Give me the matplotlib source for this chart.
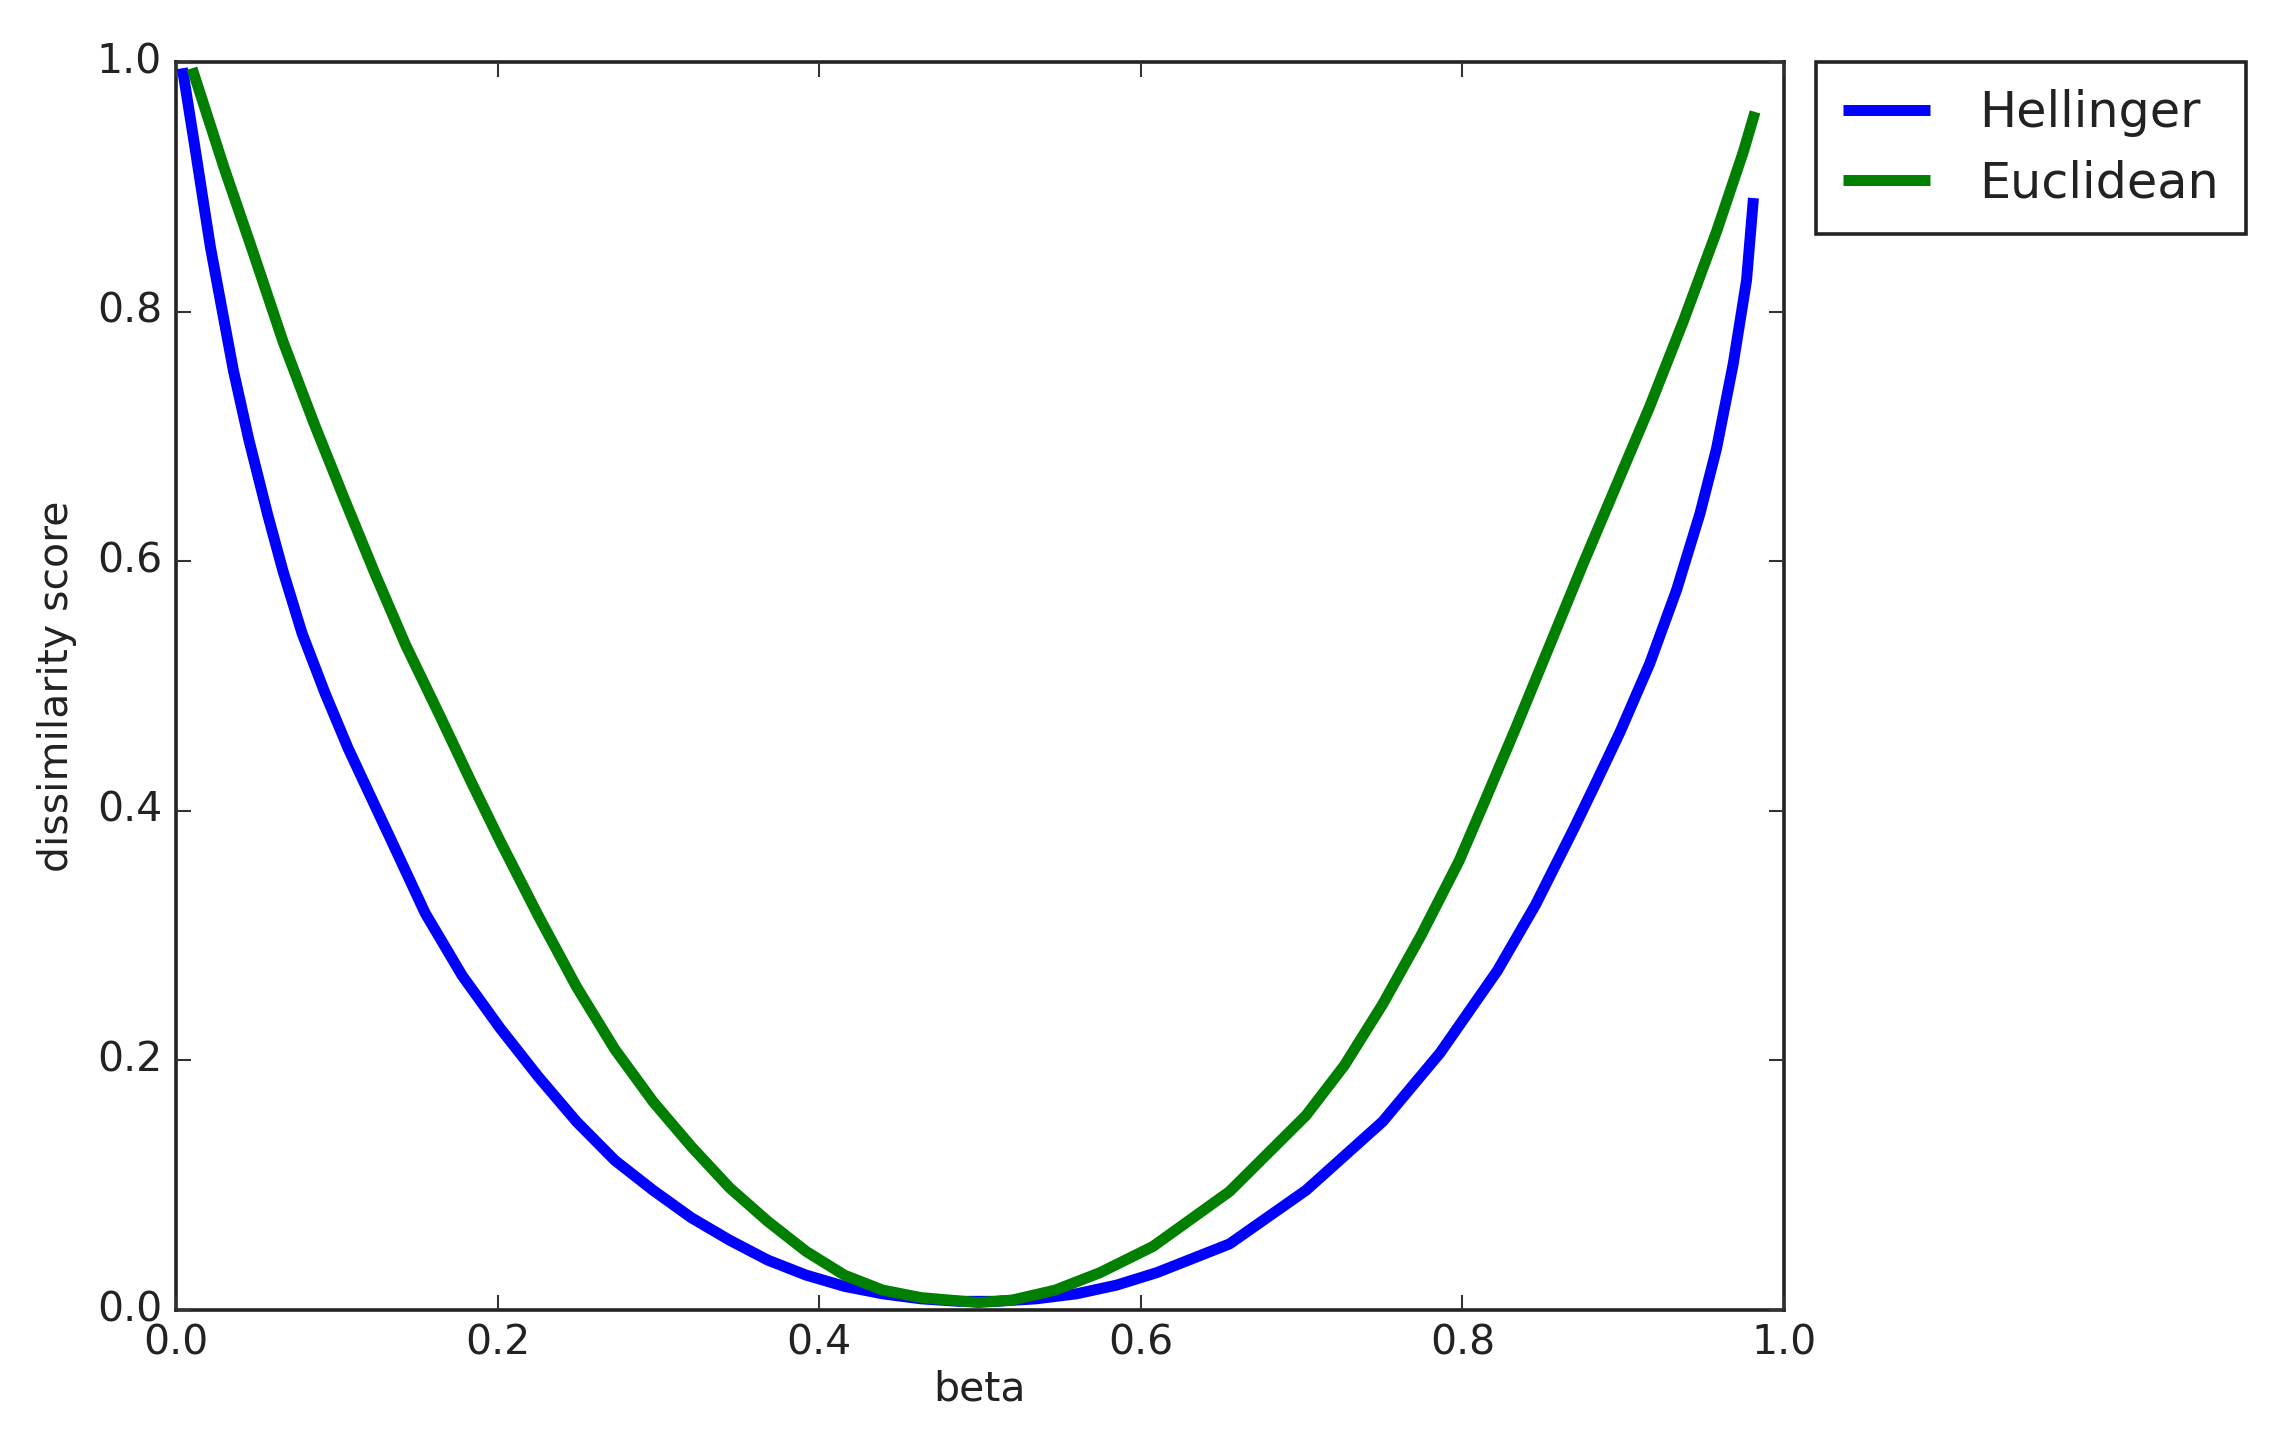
import matplotlib
matplotlib.use("Agg")
import matplotlib.pyplot as plt

# Hellinger curve
hell_beta = [0.004, 0.012, 0.018, 0.0214, 0.0286, 0.0357, 0.0452, 0.0571, 0.0666, 0.0785,
             0.0928, 0.1071, 0.1238, 0.1333, 0.155, 0.178, 0.2015, 0.2253, 0.2491, 0.2729,
             0.2967, 0.3205, 0.3443, 0.3681, 0.3919, 0.4157, 0.4395, 0.4633, 0.487, 0.510,
             0.535, 0.560, 0.585, 0.610, 0.6552, 0.7028, 0.7504, 0.7861, 0.8218, 0.8456,
             0.8694, 0.8814, 0.898, 0.9165, 0.9332, 0.9477, 0.958, 0.9684, 0.9767, 0.981]
hell_vals = [0.995, 0.930, 0.880, 0.852, 0.802, 0.753, 0.698, 0.637, 0.592, 0.542,
             0.494, 0.450, 0.404, 0.378, 0.318, 0.268, 0.226, 0.187, 0.151, 0.120,
             0.096, 0.074, 0.056, 0.040, 0.028, 0.019, 0.013, 0.009, 0.007, 0.007,
             0.009, 0.013, 0.020, 0.030, 0.053, 0.096, 0.151, 0.206, 0.272, 0.325,
             0.386, 0.418, 0.463, 0.518, 0.577, 0.638, 0.690, 0.758, 0.825, 0.891]

# Euclidean curve
eucl_beta = [0.010, 0.016, 0.030, 0.0476, 0.0666, 0.0857, 0.1047, 0.1238, 0.1428, 0.1642,
             0.1833, 0.2015, 0.2253, 0.2491, 0.2729, 0.2967, 0.3205, 0.3443, 0.3681, 0.3919,
             0.4157, 0.4395, 0.4633, 0.499, 0.520, 0.5468, 0.5747, 0.6076, 0.6552, 0.7028,
             0.7266, 0.7504, 0.7742, 0.798, 0.813, 0.8337, 0.8541, 0.8751, 0.8958, 0.9165,
             0.9373, 0.958, 0.9747, 0.982]
eucl_vals = [0.995, 0.971, 0.915, 0.849, 0.776, 0.711, 0.650, 0.590, 0.533, 0.476,
             0.424, 0.376, 0.316, 0.259, 0.209, 0.167, 0.131, 0.098, 0.071, 0.047,
             0.028, 0.016, 0.010, 0.006, 0.008, 0.016, 0.030, 0.051, 0.095, 0.156,
             0.196, 0.245, 0.300, 0.360, 0.405, 0.468, 0.532, 0.598, 0.661, 0.724,
             0.792, 0.864, 0.928, 0.960]

series_labels = ["Hellinger", "Euclidean"]
x_ticks = [0.0, 0.2, 0.4, 0.6, 0.8, 1.0]
y_ticks = [0.0, 0.2, 0.4, 0.6, 0.8, 1.0]

plt.style.use("classic")
plt.rcParams["font.family"] = ["DejaVu Sans"]
plt.rcParams["figure.facecolor"] = "white"

fig = plt.figure(figsize=(22.91, 14.39), dpi=100)
ax = fig.add_axes([0.0768, 0.0896, 0.7019, 0.8673])

ax.plot(hell_beta, hell_vals, color="#0000ff", lw=7.9, label=series_labels[0],
        solid_capstyle="butt", solid_joinstyle="round")
ax.plot(eucl_beta, eucl_vals, color="#007f00", lw=7.9, label=series_labels[1],
        solid_capstyle="butt", solid_joinstyle="round")

ax.set_xlim(0, 1)
ax.set_ylim(0, 1)
ax.set_xticks(x_ticks)
ax.set_yticks(y_ticks)
ax.set_xticklabels([f"{t:.1f}" for t in x_ticks])
ax.set_yticklabels([f"{t:.1f}" for t in y_ticks])
ax.tick_params(axis="both", which="major", labelsize=29.5, length=11, width=1.5,
               direction="in", top=True, right=True, pad=10, colors="#333333",
               labelcolor="#222222")
for sp in ax.spines.values():
    sp.set_linewidth(2.6)
    sp.set_color("#222222")

ax.set_xlabel("beta", fontsize=29.5, color="#222222", labelpad=4)
ax.set_ylabel("dissimilarity score", fontsize=29.5, color="#222222", labelpad=14)

leg = ax.legend(loc="upper left", bbox_to_anchor=(1.02, 1.0), borderaxespad=0,
                fontsize=35.5, handlelength=1.75, handletextpad=1.0,
                labelspacing=0.45, borderpad=0.55, fancybox=False, numpoints=1)
leg.get_frame().set_edgecolor("#222222")
leg.get_frame().set_linewidth(2.6)
for t in leg.get_texts():
    t.set_color("#222222")

fig.savefig("out.png", dpi=100, facecolor="white")
